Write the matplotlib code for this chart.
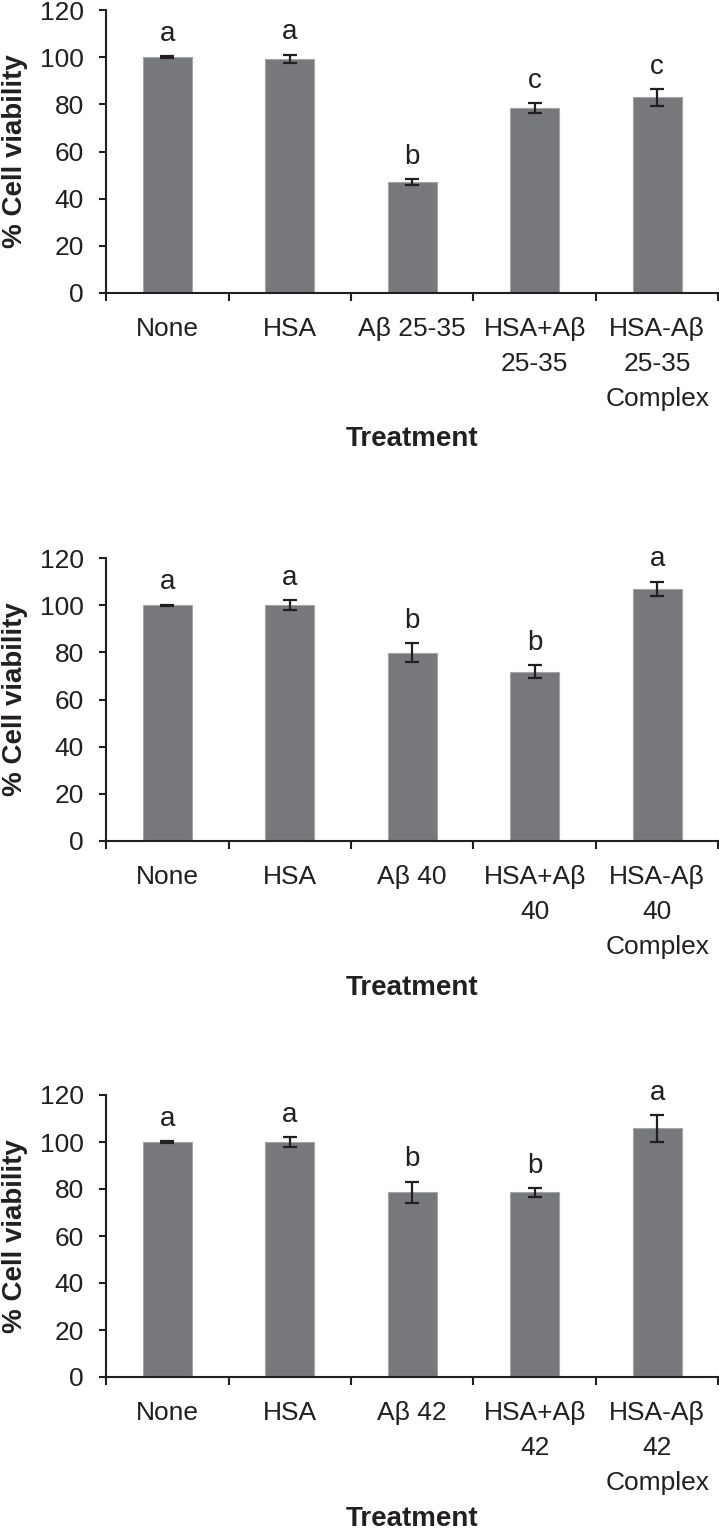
import matplotlib.pyplot as plt
import numpy as np

plt.rcParams['font.family'] = ['Liberation Sans', 'DejaVu Sans']

# cell viability (%) for each treatment, three peptide experiments
labels_1 = ['None', 'HSA', 'Aβ 25-35', 'HSA+Aβ\n25-35', 'HSA-Aβ\n25-35\nComplex']
viab_1 = [100, 99.3, 47.1, 78.3, 82.9]
err_1 = [0.5, 1.8, 1.2, 2.1, 3.5]
grp_1 = ['a', 'a', 'b', 'c', 'c']

labels_2 = ['None', 'HSA', 'Aβ 40', 'HSA+Aβ\n40', 'HSA-Aβ\n40\nComplex']
viab_2 = [100, 100, 79.8, 71.8, 106.9]
err_2 = [0.2, 2.0, 4.0, 2.8, 3.1]
grp_2 = ['a', 'a', 'b', 'b', 'a']

labels_3 = ['None', 'HSA', 'Aβ 42', 'HSA+Aβ\n42', 'HSA-Aβ\n42\nComplex']
viab_3 = [100, 100, 78.6, 78.6, 105.8]
err_3 = [0.3, 2.1, 4.5, 1.9, 5.7]
grp_3 = ['a', 'a', 'b', 'b', 'a']

dark = '#231f20'
bar_col = '#77787b'

fig = plt.figure(figsize=(7.19, 15.34), dpi=100)
W, H = 719.0, 1534.0

def panel(top_px, bot_px, labels, vals, errs, grps, xlab_y):
    ax = fig.add_axes([106 / W, 1 - bot_px / H, 612.5 / W, (bot_px - top_px) / H])
    x = np.arange(len(vals)) + 0.5
    ax.bar(x, vals, width=0.4, color=bar_col, edgecolor='#a3a4a6', linewidth=0.8, zorder=2)
    ax.errorbar(x, vals, yerr=errs, fmt='none', ecolor=dark, elinewidth=1.6,
                capsize=5, capthick=1.6, zorder=3)
    for xi, v, e, g in zip(x, vals, errs, grps):
        ax.annotate(g, (xi, v + e), xytext=(0, 11), textcoords='offset points',
                    ha='center', va='baseline', fontsize=20, color=dark)
    ax.set_xlim(0, len(vals))
    ax.set_ylim(0, 120)
    ax.set_yticks(np.arange(0, 121, 20))
    ax.set_xticks(np.arange(len(vals) + 1))
    ax.set_xticklabels([])
    ax.set_xticks(x, minor=True)
    ax.set_xticklabels(labels, minor=True, linespacing=1.6)
    ax.tick_params(axis='x', which='minor', length=0, pad=17, labelsize=19, labelcolor=dark)
    ax.tick_params(axis='x', which='major', length=6, width=1.5, color=dark)
    ax.tick_params(axis='y', length=5, width=1.5, color=dark, labelsize=19, labelcolor=dark, pad=11)
    for s in ['top', 'right']:
        ax.spines[s].set_visible(False)
    for s in ['left', 'bottom']:
        ax.spines[s].set_linewidth(1.5)
        ax.spines[s].set_color(dark)
    ax.set_ylabel('% Cell viability', fontsize=20, fontweight='bold', color=dark)
    ax.yaxis.set_label_coords(-0.128, 0.5)
    ax.set_xlabel('Treatment', fontsize=20, fontweight='bold', color=dark, va='center')
    ax.xaxis.set_label_coords(0.5, xlab_y)
    return ax

panel(10, 293, labels_1, viab_1, err_1, grp_1, -0.515)
panel(558, 841, labels_2, viab_2, err_2, grp_2, -0.52)
panel(1095, 1377, labels_3, viab_3, err_3, grp_3, -0.505)

fig.savefig('out.png', dpi=100)
